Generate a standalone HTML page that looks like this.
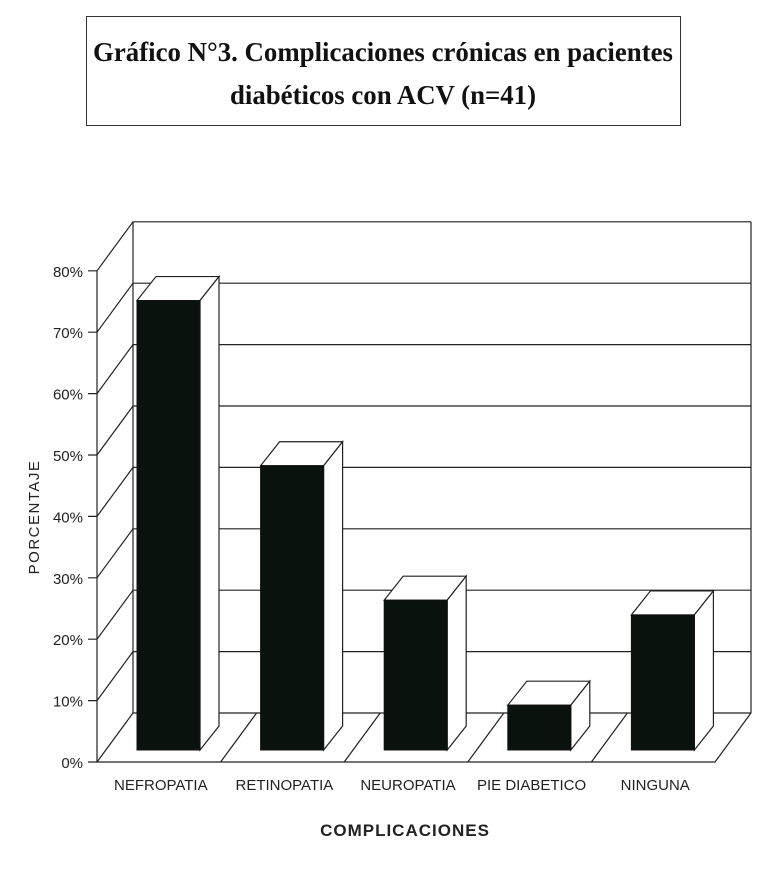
<!DOCTYPE html>
<html><head><meta charset="utf-8"><style>body{margin:0;background:#fff}svg{display:block}</style></head>
<body>
<svg id="chart" width="780" height="872" viewBox="0 0 780 872" xmlns="http://www.w3.org/2000/svg">
<rect x="86.5" y="16.5" width="594" height="109" fill="none" stroke="#333" stroke-width="1"/>
<text x="383" y="61" text-anchor="middle" font-family="Liberation Serif, serif" font-weight="bold" font-size="27" textLength="580" lengthAdjust="spacingAndGlyphs" fill="#111">Gráfico N°3. Complicaciones crónicas en pacientes</text>
<text x="383" y="104" text-anchor="middle" font-family="Liberation Serif, serif" font-weight="bold" font-size="27" textLength="306" lengthAdjust="spacingAndGlyphs" fill="#111">diabéticos con ACV (n=41)</text>
<g id="frame" stroke="#222" stroke-width="1.2" fill="none"></g>
<g id="bars"></g>
<g id="labels" font-family="Liberation Sans, sans-serif" fill="#222"></g>
<text transform="translate(39,517) rotate(-90)" text-anchor="middle" font-family="Liberation Sans, sans-serif" font-size="15" letter-spacing="1.5" fill="#222">PORCENTAJE</text>
<text x="405" y="836" text-anchor="middle" font-family="Liberation Sans, sans-serif" font-weight="bold" font-size="17" letter-spacing="1" fill="#222">COMPLICACIONES</text>
</svg>
<script>
const categories = ["NEFROPATIA","RETINOPATIA","NEUROPATIA","PIE DIABETICO","NINGUNA"];
const values = [73.2, 46.3, 24.4, 7.3, 22.0];
const tickLabels = ["0%","10%","20%","30%","40%","50%","60%","70%","80%"];
const tickValues = [0,10,20,30,40,50,60,70,80];

const NS="http://www.w3.org/2000/svg";
const x0=97, y0=762, pxPer=6.14, DX=36, DY=-49, plotW=618;
const band=plotW/categories.length;
const yFront=v=>y0-v*pxPer;
const xBand=i=>x0+i*band;
function mk(tag,attrs,parent){const e=document.createElementNS(NS,tag);for(const k in attrs)e.setAttribute(k,attrs[k]);parent.appendChild(e);return e;}
const frame=document.getElementById('frame'), bars=document.getElementById('bars'), labels=document.getElementById('labels');
const maxV=tickValues[tickValues.length-1];
// back wall, left wall, floor
let wall=mk('path',{d:`M${x0+DX},${yFront(maxV)+DY} L${x0+DX},${y0+DY} M${x0+plotW+DX},${yFront(maxV)+DY} L${x0+plotW+DX},${y0+DY} M${x0},${yFront(maxV)} L${x0},${y0} L${x0+plotW},${y0} L${x0+plotW+DX},${y0+DY}`},frame);


tickValues.forEach((v,i)=>{
  const y=yFront(v);
  const g=mk('path',{d:`M${x0-9},${y} L${x0},${y} L${x0+DX},${y+DY} L${x0+plotW+DX},${y+DY}`},frame);
  
  
  const t=mk('text',{x:x0-14,y:y+6,'text-anchor':'end','font-size':'15'},labels);
  t.textContent=tickLabels[i];
  
  
});
for(let i=1;i<categories.length;i++){
  const x=xBand(i);
  const d=mk('path',{d:`M${x},${y0} L${x+DX},${y0+DY}`},frame);
  
  
}
const bw=63, bdx=19, bdy=-24, baseY=y0-12;
categories.forEach((c,i)=>{
  const x=xBand(i)+40, top=baseY-values[i]*pxPer;
  const g=mk('g',{},bars);
  
  
  mk('path',{d:`M${x},${top} L${x+bdx},${top+bdy} L${x+bw+bdx},${top+bdy} L${x+bw},${top} Z`,fill:'#fff',stroke:'#222','stroke-width':1.2},g);
  mk('path',{d:`M${x+bw},${top} L${x+bw+bdx},${top+bdy} L${x+bw+bdx},${baseY+bdy} L${x+bw},${baseY} Z`,fill:'#fff',stroke:'#222','stroke-width':1.2},g);
  mk('rect',{x:x,y:top,width:bw,height:baseY-top,fill:'#0a120e',stroke:'#111','stroke-width':1},g);
  const t=mk('text',{x:xBand(i)+band/2+2,y:790,'text-anchor':'middle','font-size':'15'},labels);
  t.textContent=c;
  
  
});
</script>
</body></html>
